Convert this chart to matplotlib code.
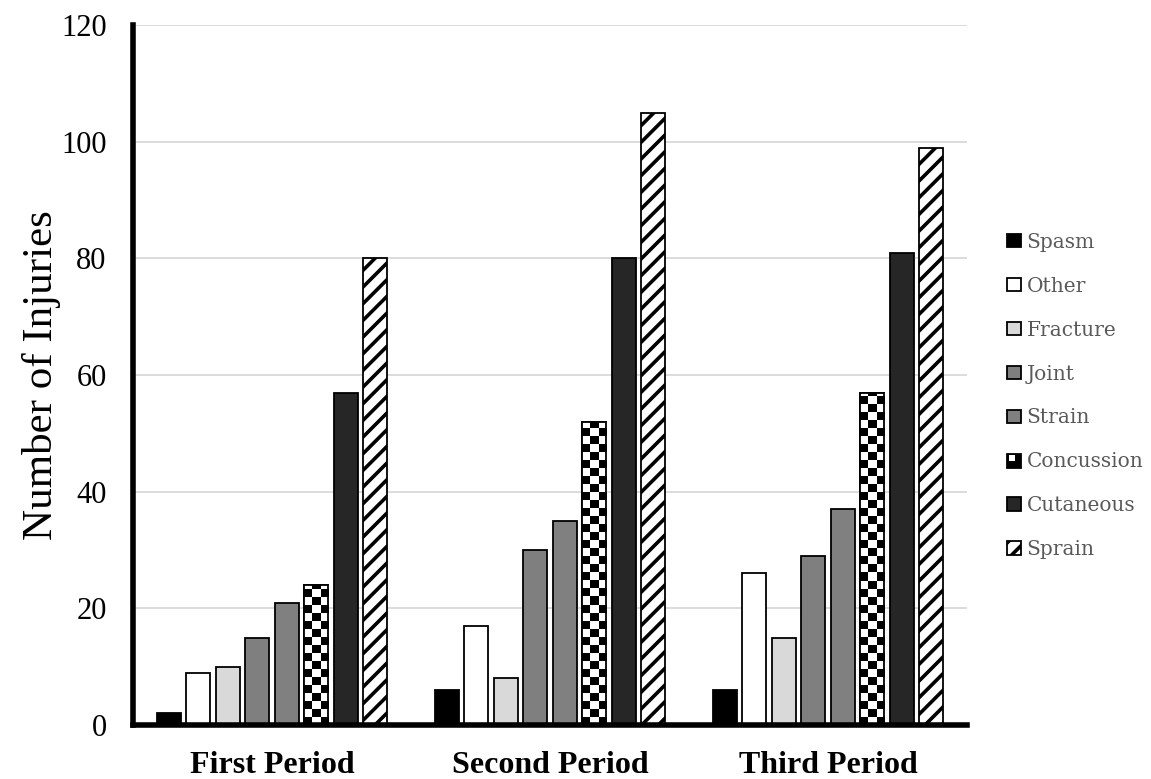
import numpy as np
import matplotlib.pyplot as plt
from matplotlib.patches import Rectangle
from matplotlib.legend_handler import HandlerBase

periods = ['First Period', 'Second Period', 'Third Period']
injuries = ['Spasm', 'Other', 'Fracture', 'Joint', 'Strain', 'Concussion', 'Cutaneous', 'Sprain']

spasm = [2, 6, 6]
other = [9, 17, 26]
fracture = [10, 8, 15]
joint = [15, 30, 29]
strain = [21, 35, 37]
concussion = [24, 52, 57]
cutaneous = [57, 80, 81]
sprain = [80, 105, 99]
values = [spasm, other, fracture, joint, strain, concussion, cutaneous, sprain]

faces = ['black', 'white', '#d9d9d9', '#7f7f7f', '#808080', 'white', '#262626', 'white']
hatches = [None, None, None, None, None, None, None, '//']

plt.rcParams['font.family'] = ['Liberation Serif', 'DejaVu Serif']
plt.rcParams['hatch.linewidth'] = 2.6
plt.rcParams['hatch.color'] = 'black'

fig = plt.figure(figsize=(11.51, 7.79), dpi=100)
ax = fig.add_axes([133 / 1151, 1 - 725 / 779, (967 - 133) / 1151, 700 / 779])

x = np.arange(len(periods))
slot = 0.106
width = 0.0865

ax.set_xlim(-0.5, 2.5)
ax.set_ylim(0, 120)

containers = []
for i, name in enumerate(injuries):
    bc = ax.bar(x + (i - 3.5) * slot, values[i], width, color=faces[i],
                edgecolor='black', linewidth=1.3, hatch=hatches[i], label=name, zorder=3)
    containers.append(bc)

# checkerboard fill for concussion bars
ppx = ax.transData.transform((1, 0))[0] - ax.transData.transform((0, 0))[0]
ppy = ax.transData.transform((0, 1))[1] - ax.transData.transform((0, 0))[1]
cell_w = width / 3
cell_h = cell_w * ppx / ppy
for bar in containers[5]:
    x0 = bar.get_x()
    h = bar.get_height()
    rows = int(np.ceil(h / cell_h))
    board = (np.indices((rows, 3)).sum(axis=0) % 2).astype(float)
    im = ax.imshow(board, cmap='gray', interpolation='nearest', aspect='auto',
                   extent=[x0, x0 + width, 0, rows * cell_h], origin='lower', zorder=3.5)
    im.set_clip_path(bar)
    edge = Rectangle((x0, 0), width, h, fill=False, edgecolor='black', linewidth=1.3, zorder=4)
    ax.add_patch(edge)

ax.set_xlim(-0.5, 2.5)
ax.set_ylim(0, 120)
ax.set_yticks(np.arange(0, 121, 20))
ax.yaxis.grid(True, color='#d9d9d9', linewidth=1.3, zorder=0)
ax.set_axisbelow(True)
ax.tick_params(axis='y', length=0, labelsize=22, pad=19)
ax.tick_params(axis='x', length=0, labelsize=23, pad=19)
ax.set_xticks(x)
ax.set_xticklabels(periods, fontweight='bold')
ax.set_ylabel('Number of Injuries', fontsize=31)
ax.yaxis.set_label_coords(-0.086, 0.5)

for s in ['top', 'right']:
    ax.spines[s].set_visible(False)
ax.spines['left'].set_linewidth(4)
ax.spines['bottom'].set_linewidth(4)
ax.spines['left'].set_zorder(5)
ax.spines['bottom'].set_zorder(5)


class CheckerHandler(HandlerBase):
    def create_artists(self, legend, orig, xd, yd, w, h, fontsize, trans):
        big = Rectangle((xd, yd), w, h, facecolor='black', edgecolor='black',
                        linewidth=1.3, transform=trans)
        small = Rectangle((xd + 0.12 * w, yd + 0.45 * h), 0.43 * w, 0.43 * h,
                          facecolor='white', edgecolor='none', transform=trans)
        return [big, small]


handles = [c.patches[0] for c in containers]
leg = fig.legend(handles, injuries, loc='center left', bbox_to_anchor=(1007 / 1151, 1 - 396 / 779),
                 frameon=False, prop={'family': 'DejaVu Serif', 'size': 14.5},
                 handlelength=0.68, handleheight=0.68, handletextpad=0.3,
                 labelspacing=1.24, borderpad=0, borderaxespad=0,
                 handler_map={containers[5].patches[0]: CheckerHandler()})
for t in leg.get_texts():
    t.set_color('#595959')

fig.savefig('out.png', dpi=100)
